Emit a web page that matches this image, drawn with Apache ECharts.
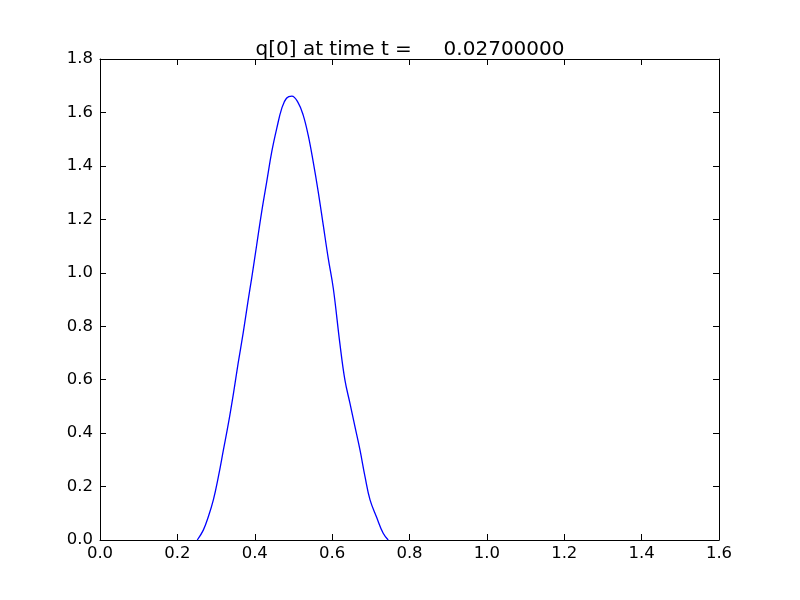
<!DOCTYPE html>
<html><head><meta charset="utf-8">
<script src="https://cdn.jsdelivr.net/npm/echarts@6/dist/echarts.min.js"></script>
<style>html,body{margin:0;padding:0;background:#fff}#c{width:800px;height:600px}</style>
</head><body><div id="c"></div>
<script>
var titleText = 'q[0] at time t =     0.02700000';
var xValues = [0.2515,0.267,0.280,0.293,0.306,0.319,0.332,0.345,0.357,0.370,0.383,0.392,0.405,0.418,0.431,0.444,0.457,0.470,0.482,0.496,0.512,0.525,0.538,0.551,0.564,0.577,0.590,0.603,0.620,0.633,0.646,0.659,0.672,0.685,0.698,0.715,0.732,0.745];
var qValues = [0.0,0.037,0.087,0.150,0.237,0.337,0.437,0.549,0.661,0.774,0.898,0.979,1.104,1.229,1.341,1.453,1.541,1.616,1.653,1.661,1.637,1.591,1.516,1.416,1.304,1.179,1.054,0.942,0.736,0.599,0.512,0.424,0.337,0.237,0.150,0.085,0.025,0.0];
var xTicks = [0.0,0.2,0.4,0.6,0.8,1.0,1.2,1.4,1.6];
var yTicks = [0.0,0.2,0.4,0.6,0.8,1.0,1.2,1.4,1.6,1.8];

var font = 'DejaVu Sans';
var data = xValues.map(function(x,i){return [x,qValues[i]];});
var chart = echarts.init(document.getElementById('c'));
function axisCommon(showLabel){
  return {
    axisLine:{show:true,onZero:false,lineStyle:{color:'#000',width:1}},
    axisTick:{show:true,inside:true,length:6,lineStyle:{color:'#000'}},
    splitLine:{show:false},
    axisLabel:{show:showLabel,color:'#000',fontFamily:font,fontSize:16.5,
      formatter:function(v){return v.toFixed(1);}}
  };
}
var xa = Object.assign(axisCommon(true),{type:'value',min:xTicks[0],max:xTicks[xTicks.length-1],interval:0.2,position:'bottom'});
xa.axisLabel.margin = 5;
var xb = Object.assign(axisCommon(false),{type:'value',min:xTicks[0],max:xTicks[xTicks.length-1],interval:0.2,position:'top'});
var ya = Object.assign(axisCommon(true),{type:'value',min:yTicks[0],max:yTicks[yTicks.length-1],interval:0.2,position:'left'});
ya.axisLabel.margin = 7;
var yb = Object.assign(axisCommon(false),{type:'value',min:yTicks[0],max:yTicks[yTicks.length-1],interval:0.2,position:'right'});
chart.setOption({
  animation:false,
  backgroundColor:'#fff',
  title:{text:titleText,left:405,textAlign:'center',top:35,
    textStyle:{fontFamily:font,fontSize:20,fontWeight:'normal',color:'#000'}},
  grid:{left:100,right:81,top:59,bottom:60,containLabel:false},
  xAxis:[xa,xb],
  yAxis:[ya,yb],
  series:[{type:'line',data:data,smooth:0.4,showSymbol:false,
    lineStyle:{color:'#0000ff',width:1.3},xAxisIndex:0,yAxisIndex:0}]
});
</script></body></html>
